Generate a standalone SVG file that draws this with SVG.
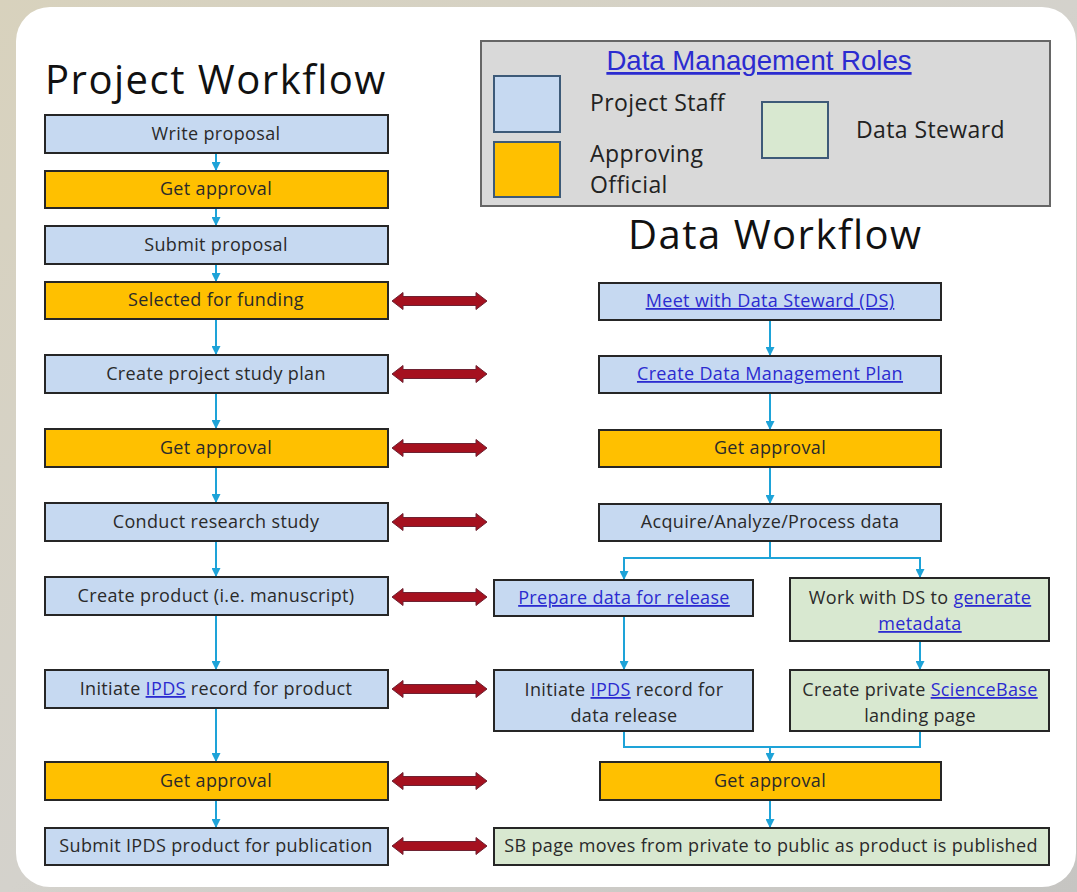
<svg xmlns="http://www.w3.org/2000/svg" width="1077" height="892" viewBox="0 0 1077 892">
  <defs>
    <linearGradient id="bg" x1="0" y1="0" x2="1" y2="1">
      <stop offset="0" stop-color="#d8d2bd"/>
      <stop offset="0.5" stop-color="#d4d2cc"/>
      <stop offset="1" stop-color="#c6c5c2"/>
    </linearGradient>
    <marker id="ah" viewBox="0 0 10 10" refX="10" refY="5" markerWidth="4.5" markerHeight="4.5" orient="auto" markerUnits="strokeWidth">
      <path d="M0,0 L10,5 L0,10 z" fill="#1ea3d8"/>
    </marker>
    <path id="dbl" d="M0,0 L11,-8.5 L11,-4.5 L84,-4.5 L84,-8.5 L95,0 L84,8.5 L84,4.5 L11,4.5 L11,8.5 Z"/>
    <style>
      .box { stroke: #262626; stroke-width: 2; }
      .staff { fill: #c6d9f1; }
      .appr { fill: #ffc000; }
      .stew { fill: #d8e8d0; }
      .t { font-family: "Open Sans", Lato, "Liberation Sans", sans-serif; font-size: 18px; letter-spacing: 0.35px; fill: #2a2a2a; text-anchor: middle; }
      .link { fill: #2b2bd0; text-decoration: underline; }
      .title { font-family: "Open Sans", Lato, "Liberation Sans", sans-serif; font-size: 40px; letter-spacing: 1.5px; fill: #111; }
      .lg { font-family: "Open Sans", Lato, "Liberation Sans", sans-serif; font-size: 23px; letter-spacing: 0.4px; fill: #222; }
      .flow { fill: none; stroke: #1ea3d8; stroke-width: 2; }
      .red { fill: #a5111f; stroke: #6e2232; stroke-width: 1; stroke-linejoin: round; }
    </style>
  </defs>

  <!-- backdrop and slide panel -->
  <rect x="0" y="0" width="1077" height="892" fill="url(#bg)"/>
  <rect x="16" y="7" width="1060" height="880" rx="34" fill="#ffffff"/>

  <!-- headings -->
  <text class="title" x="45" y="94">Project Workflow</text>
  <text class="title" x="628" y="249">Data Workflow</text>

  <!-- legend -->
  <g id="legend">
    <rect x="481" y="41" width="569" height="165" fill="#d9d9d9" stroke="#666" stroke-width="2"/>
    <text x="759" y="70" font-family="Liberation Sans, Arial, sans-serif" font-size="27.6px" fill="#2b2bd0" text-anchor="middle" text-decoration="underline">Data Management Roles</text>
    <rect x="494" y="76" width="66" height="56" fill="#c6d9f1" stroke="#3d5a78" stroke-width="2"/>
    <rect x="494" y="142" width="66" height="55" fill="#ffc000" stroke="#3d5a78" stroke-width="2"/>
    <rect x="762" y="102" width="66" height="56" fill="#d8e8d0" stroke="#3d5a78" stroke-width="2"/>
    <text class="lg" x="590" y="111">Project Staff</text>
    <text class="lg" x="590" y="162">Approving</text>
    <text class="lg" x="590" y="193">Official</text>
    <text class="lg" x="856" y="138">Data Steward</text>
  </g>

  <!-- connectors -->
  <g id="connectors">
    <!-- project column -->
    <path class="flow" marker-end="url(#ah)" d="M216,153 V171"/>
    <path class="flow" marker-end="url(#ah)" d="M216,208 V226"/>
    <path class="flow" marker-end="url(#ah)" d="M216,264 V282"/>
    <path class="flow" marker-end="url(#ah)" d="M216,319 V355"/>
    <path class="flow" marker-end="url(#ah)" d="M216,393 V429"/>
    <path class="flow" marker-end="url(#ah)" d="M216,467 V503"/>
    <path class="flow" marker-end="url(#ah)" d="M216,541 V577"/>
    <path class="flow" marker-end="url(#ah)" d="M216,615 V670"/>
    <path class="flow" marker-end="url(#ah)" d="M216,708 V762"/>
    <path class="flow" marker-end="url(#ah)" d="M216,800 V828"/>
    <!-- data column -->
    <path class="flow" marker-end="url(#ah)" d="M770,320 V356"/>
    <path class="flow" marker-end="url(#ah)" d="M770,393 V430"/>
    <path class="flow" marker-end="url(#ah)" d="M770,467 V504"/>
    <path class="flow" d="M770,541 V558 M624,558 H920"/>
    <path class="flow" marker-end="url(#ah)" d="M624,557 V580"/>
    <path class="flow" marker-end="url(#ah)" d="M920,557 V578"/>
    <path class="flow" marker-end="url(#ah)" d="M624,616 V670"/>
    <path class="flow" marker-end="url(#ah)" d="M920,641 V670"/>
    <path class="flow" d="M624,731 V747 H920 V731"/>
    <path class="flow" marker-end="url(#ah)" d="M770,746 V762"/>
    <path class="flow" marker-end="url(#ah)" d="M770,800 V828"/>
    <!-- links between the two workflows -->
    <use href="#dbl" class="red" x="392" y="301"/>
    <use href="#dbl" class="red" x="392" y="374"/>
    <use href="#dbl" class="red" x="392" y="448"/>
    <use href="#dbl" class="red" x="392" y="522"/>
    <use href="#dbl" class="red" x="392" y="597"/>
    <use href="#dbl" class="red" x="392" y="689"/>
    <use href="#dbl" class="red" x="392" y="781"/>
    <use href="#dbl" class="red" x="392" y="846"/>
  </g>

  <!-- project workflow -->
  <g id="p-write"><rect class="box staff" x="45" y="115" width="343" height="38"/><text class="t" x="216" y="140">Write proposal</text></g>
  <g id="p-approve1"><rect class="box appr" x="45" y="171" width="343" height="37"/><text class="t" x="216" y="195">Get approval</text></g>
  <g id="p-submit"><rect class="box staff" x="45" y="226" width="343" height="38"/><text class="t" x="216" y="251">Submit proposal</text></g>
  <g id="p-selected"><rect class="box appr" x="45" y="282" width="343" height="37"/><text class="t" x="216" y="306">Selected for funding</text></g>
  <g id="p-plan"><rect class="box staff" x="45" y="355" width="343" height="38"/><text class="t" x="216" y="380">Create project study plan</text></g>
  <g id="p-approve2"><rect class="box appr" x="45" y="429" width="343" height="38"/><text class="t" x="216" y="454">Get approval</text></g>
  <g id="p-research"><rect class="box staff" x="45" y="503" width="343" height="38"/><text class="t" x="216" y="528">Conduct research study</text></g>
  <g id="p-product"><rect class="box staff" x="45" y="577" width="343" height="38"/><text class="t" x="216" y="602">Create product (i.e. manuscript)</text></g>
  <g id="p-ipds"><rect class="box staff" x="45" y="670" width="343" height="38"/><text class="t" x="216" y="695">Initiate <tspan class="link">IPDS</tspan> record for product</text></g>
  <g id="p-approve3"><rect class="box appr" x="45" y="762" width="343" height="38"/><text class="t" x="216" y="787">Get approval</text></g>
  <g id="p-publish"><rect class="box staff" x="45" y="828" width="343" height="37"/><text class="t" x="216" y="852">Submit IPDS product for publication</text></g>

  <!-- data workflow -->
  <g id="d-meet"><rect class="box staff" x="599" y="283" width="342" height="37"/><text class="t link" x="770" y="307">Meet with Data Steward (DS)</text></g>
  <g id="d-dmp"><rect class="box staff" x="599" y="356" width="342" height="37"/><text class="t link" x="770" y="380">Create Data Management Plan</text></g>
  <g id="d-approve1"><rect class="box appr" x="599" y="430" width="342" height="37"/><text class="t" x="770" y="454">Get approval</text></g>
  <g id="d-acquire"><rect class="box staff" x="599" y="504" width="342" height="37"/><text class="t" x="770" y="528">Acquire/Analyze/Process data</text></g>
  <g id="d-prepare"><rect class="box staff" x="494" y="580" width="259" height="36"/><text class="t link" x="624" y="604">Prepare data for release</text></g>
  <g id="d-metadata"><rect class="box stew" x="790" y="578" width="259" height="63"/><text class="t" x="920" y="604">Work with DS to <tspan class="link">generate</tspan></text><text class="t link" x="920" y="630">metadata</text></g>
  <g id="d-ipds"><rect class="box staff" x="494" y="670" width="259" height="61"/><text class="t" x="624" y="696">Initiate <tspan class="link">IPDS</tspan> record for</text><text class="t" x="624" y="722">data release</text></g>
  <g id="d-sciencebase"><rect class="box stew" x="790" y="670" width="259" height="61"/><text class="t" x="920" y="696">Create private <tspan class="link">ScienceBase</tspan></text><text class="t" x="920" y="722">landing page</text></g>
  <g id="d-approve2"><rect class="box appr" x="600" y="762" width="341" height="38"/><text class="t" x="770" y="787">Get approval</text></g>
  <g id="d-public"><rect class="box stew" x="494" y="828" width="555" height="37"/><text class="t" x="771" y="852" letter-spacing="0.25px">SB page moves from private to public as product is published</text></g>
</svg>
